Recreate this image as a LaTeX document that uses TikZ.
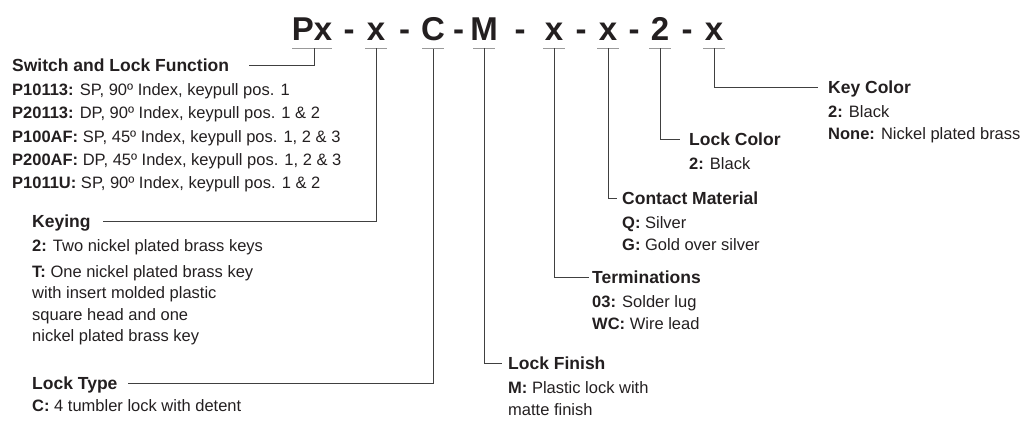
\documentclass[tikz,border=0pt]{standalone}
\usepackage{fontspec}
\setmainfont{Liberation Sans}
\newfontfamily\codefont{Liberation Sans}
\usetikzlibrary{positioning}

\definecolor{ink}{HTML}{231F20}

\tikzset{
  code/.style={font=\codefont\bfseries\fontsize{33}{33}\selectfont, inner sep=0pt, anchor=base, text=ink},
  codesep/.style={font=\codefont\bfseries\fontsize{33}{33}\selectfont, inner sep=0pt, anchor=base, text=ink},
  fieldhead/.style={font=\bfseries\fontsize{17.5}{20}\selectfont, inner sep=0pt, text height=12.5pt, text depth=0pt, anchor=west, text=ink},
  fielditems/.style={font=\fontsize{16.5}{21.5}\selectfont, inner sep=0pt, align=left, text=ink},
  conn/.style={draw=black!75, line width=0.9pt},
  uline/.style={draw=black!40, line width=1.3pt}
}

\begin{document}
\begin{tikzpicture}[x=1pt,y=-1pt]
  \useasboundingbox (0,0) rectangle (1029,422);

  % part number
  \foreach \name/\xpos/\half/\txt in {c1/312/20/Px, c2/376/11/x, c3/433/11/C, c4/484/11/M,
      c5/554/11/x, c6/608/11/x, c7/660/11/2, c8/714/11/x}{
    \node[code] (\name) at (\xpos,41) {\txt};
    \draw[uline] ([xshift=-\half pt,yshift=-7pt]\name.south) -- ([xshift=\half pt,yshift=-7pt]\name.south);
  }
  \foreach \xpos in {349,404.5,458.5,520,581,634,687}
    \node[codesep] at (\xpos,41) {-};

  % fields
  \node[fieldhead] (swl) at (12,65) {Switch and Lock Function};
  \node[fielditems, font=\fontsize{16.5}{23.3}\selectfont, below=12pt of swl.south west, anchor=north west] (swlitems)
    {\textbf{P10113:} SP, 90º Index, keypull pos. 1\\
     \textbf{P20113:} DP, 90º Index, keypull pos. 1 \& 2\\
     \textbf{P100AF:} SP, 45º Index, keypull pos. 1, 2 \& 3\\
     \textbf{P200AF:} DP, 45º Index, keypull pos. 1, 2 \& 3\\
     \textbf{P1011U:} SP, 90º Index, keypull pos. 1 \& 2};

  \node[fieldhead] (keyg) at (32,221) {Keying};
  \node[fielditems, below=12pt of keyg.south west, anchor=north west] (keygitems)
    {\textbf{2:} Two nickel plated brass keys\\[4pt]
     \textbf{T:} One nickel plated brass key\\
     with insert molded plastic\\
     square head and one\\
     nickel plated brass key};

  \node[fieldhead] (ltype) at (32,383) {Lock Type};
  \node[fielditems, below=10pt of ltype.south west, anchor=north west] (ltypeitems)
    {\textbf{C:} 4 tumbler lock with detent};

  \node[fieldhead] (lfin) at (508,363) {Lock Finish};
  \node[fielditems, below=12pt of lfin.south west, anchor=north west] (lfinitems)
    {\textbf{M:} Plastic lock with\\ matte finish};

  \node[fieldhead] (term) at (592,277) {Terminations};
  \node[fielditems, below=12pt of term.south west, anchor=north west] (termitems)
    {\textbf{03:} Solder lug\\ \textbf{WC:} Wire lead};

  \node[fieldhead] (cmat) at (622,198) {Contact Material};
  \node[fielditems, below=12pt of cmat.south west, anchor=north west] (cmatitems)
    {\textbf{Q:} Silver\\ \textbf{G:} Gold over silver};

  \node[fieldhead] (lcol) at (689,139) {Lock Color};
  \node[fielditems, below=12pt of lcol.south west, anchor=north west] (lcolitems)
    {\textbf{2:} Black};

  \node[fieldhead] (kcol) at (828,87) {Key Color};
  \node[fielditems, below=12pt of kcol.south west, anchor=north west] (kcolitems)
    {\textbf{2:} Black\\ \textbf{None:} Nickel plated brass};

  % leaders
  \draw[conn] ([xshift=2pt,yshift=-7pt]c1.south) |- ([xshift=20pt]swl.east);
  \draw[conn] ([yshift=-7pt]c2.south) |- ([xshift=12pt]keyg.east);
  \draw[conn] ([yshift=-7pt]c3.south) |- ([xshift=10pt]ltype.east);
  \draw[conn] ([yshift=-7pt]c4.south) |- ([xshift=-6pt]lfin.west);
  \draw[conn] ([yshift=-7pt]c5.south) |- ([xshift=-3pt]term.west);
  \draw[conn] ([yshift=-7pt]c6.south) |- ([xshift=-5pt]cmat.west);
  \draw[conn] ([yshift=-7pt]c7.south) |- ([xshift=-9pt]lcol.west);
  \draw[conn] ([yshift=-7pt]c8.south) |- ([xshift=-10pt]kcol.west);
\end{tikzpicture}
\end{document}
